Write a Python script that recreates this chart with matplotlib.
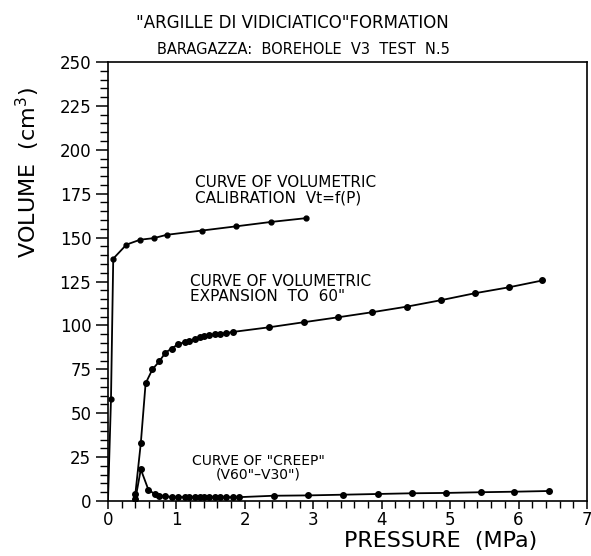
import matplotlib.pyplot as plt
from matplotlib.ticker import MultipleLocator

# ===== DATA =====
# curve of volumetric calibration Vt=f(P)
calib_p = [0.0, 0.044, 0.077, 0.27, 0.47, 0.67, 0.86, 1.37, 1.87, 2.38, 2.90]
calib_v = [0, 58, 138, 146, 148.8, 149.7, 151.6, 154, 156.4, 158.9, 161.1]

# curve of volumetric expansion to 60"
exp_p = [0.40, 0.48, 0.55, 0.65, 0.75, 0.84, 0.93, 1.02, 1.12, 1.19, 1.27, 1.34,
         1.41, 1.48, 1.56, 1.63, 1.73, 1.83, 2.35, 2.86, 3.36, 3.86, 4.37, 4.86,
         5.36, 5.86, 6.35]
exp_v = [4, 33, 67, 75, 79.5, 84.5, 86.8, 89.2, 90.5, 91.3, 92.3, 93.2,
         93.8, 94.4, 94.9, 95.3, 95.7, 96.3, 98.9, 101.8, 104.6, 107.5, 110.7, 114.3,
         118.3, 121.7, 125.6]

# curve of creep (V60"-V30")
creep_p = [0.40, 0.48, 0.59, 0.68, 0.75, 0.84, 0.93, 1.02, 1.12, 1.19, 1.27, 1.34,
           1.41, 1.48, 1.56, 1.63, 1.73, 1.83, 1.92, 2.42, 2.93, 3.44, 3.94, 4.44,
           4.94, 5.45, 5.94, 6.44]
creep_v = [1, 18, 6.5, 4, 3, 2.6, 2.4, 2.3, 2.2, 2.2, 2.2, 2.2,
           2.2, 2.2, 2.2, 2.2, 2.2, 2.2, 2.2, 3.0, 3.2, 3.6, 4.0, 4.4,
           4.6, 5.0, 5.3, 5.7]

# ===== PLOT =====
fig = plt.figure(figsize=(5.91, 5.56), dpi=100)
ax = fig.add_axes([0.1827, 0.0989, 0.8104, 0.7896])

ax.plot(calib_p, calib_v, color='black', linewidth=1.3,
        marker='o', markersize=3.5, markevery=slice(1, None))
ax.plot(exp_p, exp_v, color='black', linewidth=1.3, marker='o', markersize=4)
ax.plot(creep_p, creep_v, color='black', linewidth=1.3, marker='o', markersize=4)

ax.set_xlim(0, 7)
ax.set_ylim(0, 250)
ax.xaxis.set_major_locator(MultipleLocator(1))
ax.xaxis.set_minor_locator(MultipleLocator(0.2))
ax.yaxis.set_major_locator(MultipleLocator(25))
ax.yaxis.set_minor_locator(MultipleLocator(5))
ax.tick_params(axis='x', which='major', length=6, width=1.1, labelsize=12, pad=1)
ax.tick_params(axis='y', which='major', length=9, width=1.1, labelsize=12, pad=3)
ax.tick_params(axis='x', which='minor', length=5, width=1.0)
ax.tick_params(axis='y', which='minor', length=6, width=1.0)
for s in ax.spines.values():
    s.set_linewidth(1.2)

ax.set_xlabel('PRESSURE  (MPa)', fontsize=16, va='center')
ax.xaxis.set_label_coords(0.695, -0.091)
ax.set_ylabel('VOLUME  (cm$^3$)', fontsize=16)
ax.yaxis.set_label_coords(-0.138, 0.747)

# curve labels
ax.text(1.27, 177, 'CURVE OF VOLUMETRIC\nCALIBRATION  Vt=f(P)', fontsize=11,
        linespacing=1.0, va='center')
ax.text(1.20, 121, 'CURVE OF VOLUMETRIC\nEXPANSION  TO  60"', fontsize=11,
        linespacing=1.0, va='center')
ax.text(2.2, 19, 'CURVE OF "CREEP"\n(V60"\u2013V30")', fontsize=10,
        linespacing=1.0, va='center', ha='center', multialignment='center')

fig.text(292 / 591, 1 - 23 / 556, '"ARGILLE DI VIDICIATICO"FORMATION',
         fontsize=12, ha='center', va='center', family='Liberation Sans Narrow')
fig.text(303 / 591, 1 - 50 / 556, 'BARAGAZZA:  BOREHOLE  V3  TEST  N.5',
         fontsize=10.5, ha='center', va='center', family='Liberation Sans Narrow')

fig.savefig('out.png', dpi=100)
